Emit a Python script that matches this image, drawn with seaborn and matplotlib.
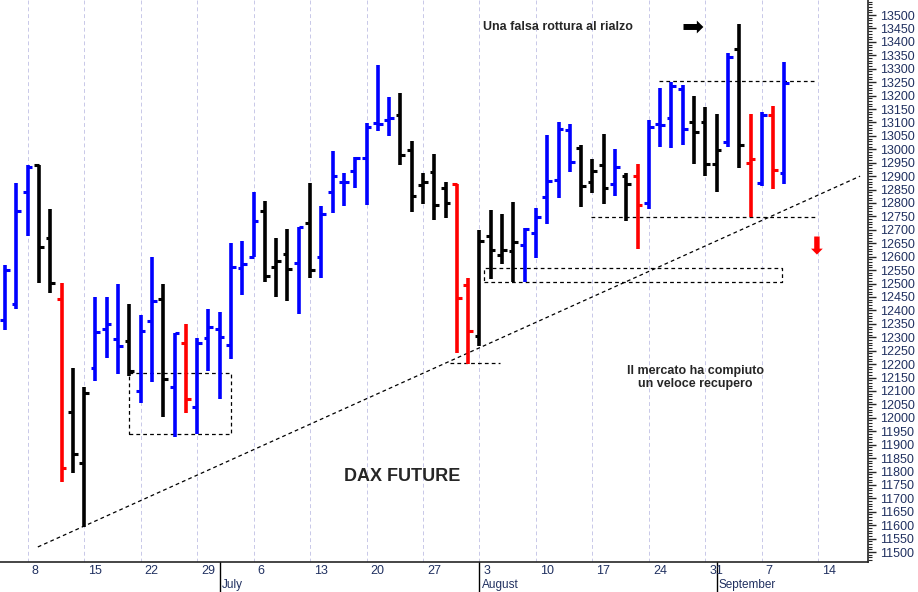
import matplotlib
matplotlib.use("Agg")
import matplotlib.pyplot as plt
import matplotlib.transforms as mtransforms
from matplotlib.ticker import MultipleLocator
import seaborn as sns
import numpy as np
import pandas as pd

opens  = [12364,12424,12841,12941,12670,12442,12022,11832,12185,12331,12293,12286,12100,12360,12442,12115,12279,12040,12297,12331,
          12271,12558,12599,12770,12562,12610,12576,12725,12599,12841,12878,12919,12967,13098,13109,13128,12997,12867,12915,12856,
          12871,12495,12305,12677,12606,12621,12643,12688,12822,12886,13072,13005,12878,12941,12871,12900,12900,12800,13094,13116,
          13224,13102,13102,12945,13027,13373,12949,12874,13128,12912]
highs  = [12569,12874,12941,12941,12778,12502,12185,12115,12450,12450,12498,12424,12383,12599,12498,12316,12349,12297,12405,12394,
          12651,12658,12841,12807,12670,12703,12711,12874,12789,12994,12912,12971,13098,13314,13195,13210,13031,12912,12982,12878,
          12871,12521,12699,12774,12759,12804,12707,12781,13053,13102,13094,13016,12964,13057,13001,12912,12945,13109,13228,13250,
          13239,13198,13157,13131,13358,13466,13131,13139,13161,13325]
lows   = [12327,12405,12677,12502,12465,11761,11794,11593,12137,12223,12163,12156,12055,12133,12003,11928,12018,11940,12174,12070,
          12219,12457,12599,12506,12450,12435,12387,12521,12521,12763,12789,12856,12792,13068,13049,12941,12766,12796,12737,12744,
          12241,12200,12267,12517,12573,12506,12506,12595,12722,12819,12915,12785,12837,12796,12826,12733,12629,12778,13008,13005,
          13016,12945,12900,12841,13008,12930,12748,12863,12852,12871]
closes = [12550,12770,12934,12636,12502,11813,11865,12092,12320,12349,12267,12174,12323,12435,12144,12316,12070,12279,12338,12301,
          12562,12573,12733,12528,12584,12554,12711,12550,12759,12900,12878,12967,13083,13094,13116,12979,12826,12878,12792,12800,
          12446,12323,12658,12625,12625,12655,12703,12748,12882,13075,12953,12863,12919,12856,12934,12871,12792,13083,13090,13236,
          13075,13064,12945,12997,13344,13016,12964,13128,12923,13247]
colors = list("bbbkkrkkbbbkbbkbrbbbbbbkkkbkbbbbbbbkkkkkrrkkkkbbbbbkkkbkrbbbbkkkbkrbrb")
color_map = {"b": "#0000ff", "k": "#000000", "r": "#ff0000"}

monday_idx = [2, 7, 12, 17, 22, 27, 32, 37, 42, 47, 52, 57, 62, 67, 72]
monday_lbl = ["8","15","22","29","6","13","20","27","3","10","17","24","31","7","14"]
month_idx = [19, 42, 63]
month_lbl = ["July", "August", "September"]

df = pd.DataFrame({"i": np.arange(len(opens)), "o": opens, "h": highs, "l": lows, "c": closes, "col": colors})

sns.set_style("white")
plt.rcParams['font.family'] = ['Liberation Sans', 'DejaVu Sans']
fig = plt.figure(figsize=(9.18, 5.92), dpi=100)
ax = fig.add_axes([0, 30/592, 868/918, 562/592])
ax.set_xlim(-0.45, 76.4)
ax.set_ylim(11463, 13556)

for m in monday_idx:
    ax.axvline(m, color="#c8c8e8", lw=0.7, ls=(0, (4, 3)), zorder=0)

for _, r in df.iterrows():
    c = color_map[r.col]
    ax.vlines(r.i, r.l, r.h, color=c, lw=2.6, zorder=3)
    ax.hlines(r.o, r.i - 0.42, r.i, color=c, lw=2.2, zorder=3)
    ax.hlines(r.c, r.i, r.i + 0.42, color=c, lw=2.2, zorder=3)

dash = dict(color="black", lw=0.9, ls=(0, (3, 2.5)), zorder=2)
sns.lineplot(x=[2.9, 75.7], y=[11519, 12900], ax=ax, color="black", lw=0.9, linestyle=(0, (3, 2.5)), zorder=2)
ax.plot([11, 20, 20, 11, 11], [11940, 11940, 12167, 12167, 11940], **dash)
ax.plot([42.4, 68.8, 68.8, 42.4, 42.4], [12506, 12506, 12558, 12558, 12506], **dash)
ax.plot([39.4, 43.8], [12204, 12204], **dash)
ax.plot([51.9, 71.9], [12748, 12748], **dash)
ax.plot([57.9, 71.9], [13254, 13254], **dash)

ax.text(42.3, 13455, "Una falsa rottura al rialzo", fontsize=9, fontweight="bold", va="center", ha="left")
ax.text(60.9, 13455, "\u27a1", fontsize=19, color="black", ha="center", va="center", family="DejaVu Sans")
ax.text(71.9, 12635, "\u2b07", fontsize=17, color="red", ha="center", va="center", family="DejaVu Sans")
ax.text(61.1, 12150, "Il mercato ha compiuto\nun veloce recupero", fontsize=9, fontweight="bold",
        ha="center", va="center", linespacing=1.2)
ax.text(35.2, 11780, "DAX FUTURE", fontsize=13, fontweight="bold", ha="center", va="center")

for s in ["top", "left"]:
    ax.spines[s].set_visible(False)
ax.spines["right"].set_linewidth(1.2)
ax.spines["bottom"].set_linewidth(1.2)
ax.yaxis.tick_right()
ax.yaxis.set_minor_locator(MultipleLocator(10))
ax.set_yticks(np.arange(11500, 13501, 50))
ax.tick_params(axis="y", which="major", length=6, width=1, labelsize=9, labelcolor="#203060", pad=3)
ax.tick_params(axis="y", which="minor", length=3, width=0.8)
ax.set_xticks(monday_idx)
ax.set_xticklabels([])
ax.tick_params(axis="x", which="major", length=10, width=1, direction="out")
trans = mtransforms.blended_transform_factory(ax.transData, ax.transAxes)
for m, l in zip(monday_idx, monday_lbl):
    ax.text(m + 0.35, -0.005, l, transform=trans, fontsize=9, ha="left", va="top", color="#203060")
for m, l in zip(month_idx, month_lbl):
    ax.plot([m, m], [-0.0, -0.055], transform=trans, color="black", lw=1, clip_on=False)
    ax.text(m + 0.2, -0.030, l, transform=trans, fontsize=8.5, ha="left", va="top", color="#203060")
ax.set_xlabel("")
ax.set_ylabel("")

fig.savefig("out.png", dpi=100)
